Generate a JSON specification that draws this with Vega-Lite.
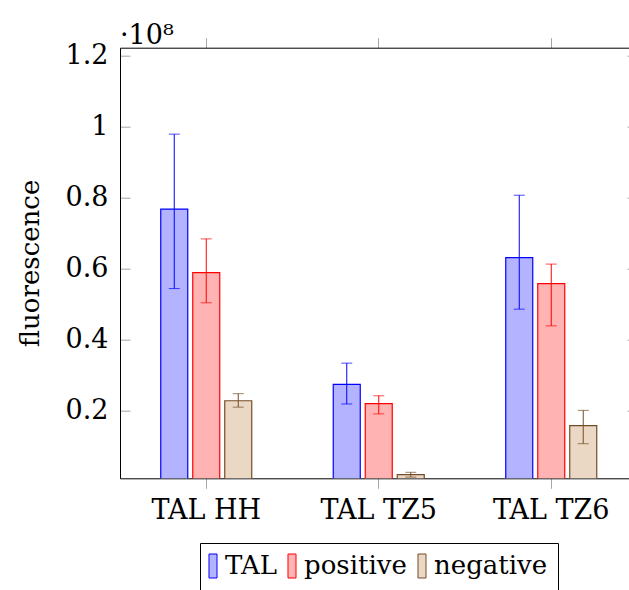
{
  "$schema": "https://vega.github.io/schema/vega-lite/v6.json",
  "autosize": "none",
  "width": 509,
  "height": 430.6,
  "padding": {"left": 120, "top": 47.7, "right": 0, "bottom": 111.7},
  "background": "white",
  "title": {"text": "·10⁸", "anchor": "start", "frame": "group", "font": "DejaVu Serif", "fontSize": 27, "fontWeight": "normal", "color": "black", "baseline": "alphabetic", "offset": 0, "dx": 0, "dy": 34},
  "config": {
    "font": "DejaVu Serif",
    "view": {"stroke": null},
    "axis": {"labelFont": "DejaVu Serif", "labelFontSize": 27, "labelColor": "black", "titleFont": "DejaVu Serif", "titleFontSize": 26, "titleFontWeight": "normal", "titleColor": "black", "domainColor": "black", "domainWidth": 1, "tickColor": "#a6a6a6", "tickWidth": 1, "grid": false},
    "legend": {"labelFont": "DejaVu Serif", "labelFontSize": 26, "labelColor": "black"}
  },
  "data": {"values": [
    {"group": "TAL HH", "series": "TAL", "value": 76800000, "lo": 54400000, "hi": 97900000},
    {"group": "TAL HH", "series": "positive", "value": 58900000, "lo": 50400000, "hi": 68400000},
    {"group": "TAL HH", "series": "negative", "value": 22800000, "lo": 21000000, "hi": 24800000},
    {"group": "TAL TZ5", "series": "TAL", "value": 27400000, "lo": 21900000, "hi": 33400000},
    {"group": "TAL TZ5", "series": "positive", "value": 22000000, "lo": 19100000, "hi": 24200000},
    {"group": "TAL TZ5", "series": "negative", "value": 2000000, "lo": 1300000, "hi": 2650000},
    {"group": "TAL TZ6", "series": "TAL", "value": 63100000, "lo": 48600000, "hi": 80700000},
    {"group": "TAL TZ6", "series": "positive", "value": 55800000, "lo": 43900000, "hi": 61300000},
    {"group": "TAL TZ6", "series": "negative", "value": 15800000, "lo": 10700000, "hi": 20100000}
  ]},
  "encoding": {
    "x": {"field": "group", "type": "nominal", "sort": ["TAL HH", "TAL TZ5", "TAL TZ6"],
      "scale": {"range": [0, 517.5], "paddingInner": 0, "paddingOuter": 0},
      "axis": null},
    "xOffset": {"field": "series", "type": "nominal", "sort": ["TAL", "positive", "negative"],
      "scale": {"range": [40.75, 131.75], "paddingInner": 0.156, "paddingOuter": 0}}
  },
  "layer": [
    {
      "mark": {"type": "bar", "strokeWidth": 1.2, "clip": true, "opacity": 1},
      "encoding": {
        "x": {"field": "group", "type": "nominal", "sort": ["TAL HH", "TAL TZ5", "TAL TZ6"],
          "axis": {"title": null, "labelAngle": 0, "tickSize": 10, "labelPadding": 9, "orient": "bottom"}},
        "y": {"field": "value", "type": "quantitative",
          "scale": {"domain": [960000, 122250000], "zero": false, "nice": false},
          "axis": {"title": "fluorescence", "values": [20000000, 40000000, 60000000, 80000000, 100000000, 120000000],
            "labelExpr": "format(datum.value/1e8, '.1~f')", "tickSize": -10, "labelPadding": 22,
            "titleX": -82, "titleY": 215.3, "titleAngle": -90, "titleBaseline": "alphabetic", "titleAlign": "center"}},
        "fill": {"field": "series", "type": "nominal", "sort": ["TAL", "positive", "negative"],
          "scale": {"domain": ["TAL", "positive", "negative"], "range": ["#b3b3ff", "#ffb3b3", "#ead8c4"]},
          "legend": {"title": null, "orient": "none", "legendX": 80, "legendY": 495.3, "direction": "horizontal", "strokeColor": "black", "padding": 10,
            "labelFont": "DejaVu Serif", "labelFontSize": 26, "labelColor": "black",
            "symbolType": "M-1.167,-1H-0.5V1H-1.167Z", "symbolSize": 576, "symbolStrokeWidth": 1, "symbolOpacity": 1,
            "labelOffset": -11, "columnPadding": 8, "fillColor": "white",
            "encode": {
              "symbols": {"update": {"stroke": {"scale": "stroke", "field": "value"}, "strokeWidth": {"value": 1}}},
              "labels": {"update": {"font": {"value": "DejaVu Serif"}, "fontSize": {"value": 26}, "fill": {"value": "black"}}}
            }}},
        "stroke": {"field": "series", "type": "nominal", "sort": ["TAL", "positive", "negative"],
          "scale": {"domain": ["TAL", "positive", "negative"], "range": ["#0000ff", "#ff0000", "#734d26"]},
          "legend": null}
      }
    },
    {
      "mark": {"type": "rule", "strokeWidth": 1},
      "encoding": {
        "y": {"field": "lo", "type": "quantitative", "axis": null},
        "y2": {"field": "hi"},
        "stroke": {"field": "series", "type": "nominal", "legend": null}
      }
    },
    {
      "mark": {"type": "tick", "size": 11, "thickness": 1},
      "encoding": {
        "y": {"field": "lo", "type": "quantitative", "axis": null},
        "color": {"field": "series", "type": "nominal", "scale": {"domain": ["TAL", "positive", "negative"], "range": ["#0000ff", "#ff0000", "#734d26"]}, "legend": null}
      }
    },
    {
      "mark": {"type": "tick", "size": 11, "thickness": 1},
      "encoding": {
        "y": {"field": "hi", "type": "quantitative", "axis": null},
        "color": {"field": "series", "type": "nominal", "scale": {"domain": ["TAL", "positive", "negative"], "range": ["#0000ff", "#ff0000", "#734d26"]}, "legend": null}
      }
    },
    {
      "mark": {"type": "rule", "opacity": 0},
      "encoding": {
        "y": {"field": "value", "type": "quantitative",
          "axis": {"orient": "right", "labels": false, "domain": false, "title": null, "tickSize": -2,
            "values": [20000000, 40000000, 60000000, 80000000, 100000000, 120000000]}},
        "x": {"field": "group", "type": "nominal", "sort": ["TAL HH", "TAL TZ5", "TAL TZ6"],
          "axis": {"orient": "top", "labels": false, "title": null, "tickSize": 10}}
      }
    }
  ],
  "resolve": {"axis": {"x": "independent", "y": "independent"}}
}
